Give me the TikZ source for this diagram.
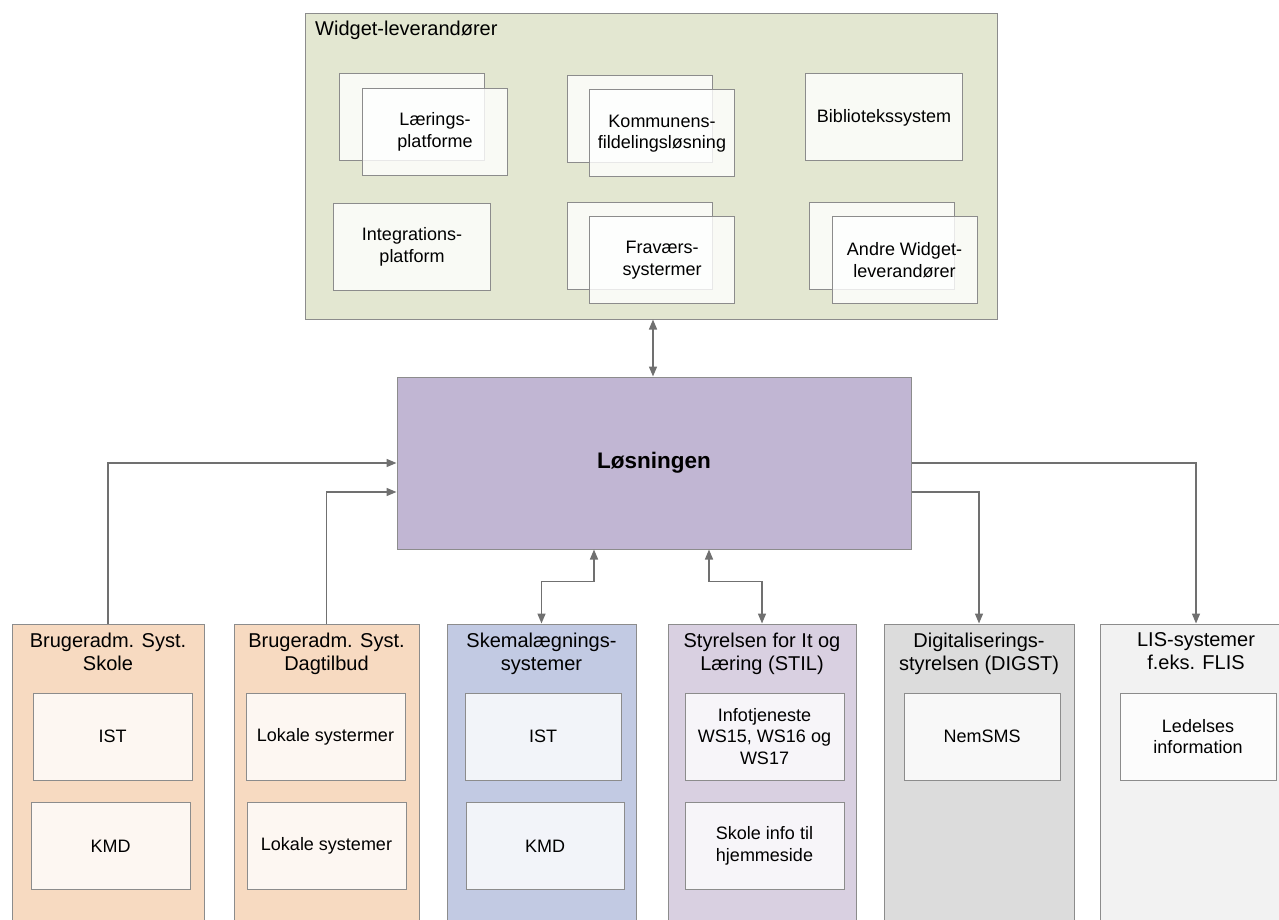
\documentclass[tikz,border=0pt]{standalone}
\usepackage{fontspec}
\setmainfont{Liberation Sans}
\usetikzlibrary{arrows.meta}

\definecolor{cBorder}{HTML}{8C8C8C}
\definecolor{cLine}{HTML}{707070}
\definecolor{cWidget}{HTML}{E3E7D1}
\definecolor{cCore}{HTML}{C1B6D3}
\definecolor{cPeach}{HTML}{F7DAC1}
\definecolor{cBlue}{HTML}{C2CAE3}
\definecolor{cLilac}{HTML}{D9D0E1}
\definecolor{cGrey}{HTML}{DCDCDC}
\definecolor{cLight}{HTML}{F2F2F2}

\newcommand\fsz[2]{\fontsize{#1}{#2}\selectfont}

\begin{document}
\begin{tikzpicture}[x=1pt,y=-1pt,
  panel/.style={draw=cBorder, line width=1pt, rectangle, inner sep=0pt},
  colbox/.style={panel, minimum height=316pt},
  card/.style={panel, fill=white, fill opacity=0.8, text opacity=1,
    minimum width=#1, minimum height=87pt, align=center, font=\fsz{18}{21.5}},
  card/.default=145pt,
  wide/.style={card=157pt},
  coltitle/.style={anchor=north, inner sep=0pt, yshift=-9pt, align=center,
    font=\fsz{20}{23}},
  conn/.style={draw=cLine, line width=1.5pt},
  tip/.style={-{Triangle[length=10pt,width=8pt]}},
  tips/.style={{Triangle[length=10pt,width=8pt]}-{Triangle[length=10pt,width=8pt]}}
]
\useasboundingbox (0,0) rectangle (1279,920);
\clip (0,0) rectangle (1279,920);

% supplier container
\node[panel, fill=cWidget, minimum width=692pt, minimum height=305pt] (widget) at (651,166.5) {};
\node[anchor=base west, inner sep=0pt, font=\fsz{20}{23}] (wtitle) at (315,35.5) {Widget-leverandører};

% supplier cards (stacked pairs are drawn back first)
\node[card] (lpB) at (411.5,117.5) {};
\node[card] (lp) at (435,132) {Lærings-\\platforme};
\node[card] (kfB) at (639.5,119.5) {};
\node[card] (kf) at (662,133.5) {Kommunens-\\fildelingsløsning};
\node[wide] (bib) at (884,117.5) {Bibliotekssystem};
\node[wide] (ip) at (412,247) {Integrations-\\platform};
\node[card] (frB) at (639.5,246) {};
\node[card] (fr) at (662,260) {Fraværs-\\systermer};
\node[card] (anB) at (881.5,246) {};
\node[card] (an) at (904.5,260) {Andre Widget-\\leverandører};

% central solution
\node[panel, fill=cCore, minimum width=514pt, minimum height=172pt,
  font=\fsz{22.5}{26}\bfseries] (los) at (654,463) {Løsningen};

% bottom columns
\node[colbox, fill=cPeach, minimum width=192pt] (skole) at (108,782) {};
\node[coltitle] at (skole.north) {Brugeradm. Syst.\\Skole};
\node[colbox, fill=cPeach, minimum width=185pt] (dag) at (326.5,782) {};
\node[coltitle] at (dag.north) {Brugeradm. Syst.\\Dagtilbud};
\node[colbox, fill=cBlue, minimum width=189pt] (skema) at (541.5,782) {};
\node[coltitle] at (skema.north) {Skemalægnings-\\systemer};
\node[colbox, fill=cLilac, minimum width=188pt] (stil) at (762,782) {};
\node[coltitle] at (stil.north) {Styrelsen for It og\\Læring (STIL)};
\node[colbox, fill=cGrey, minimum width=190pt] (digst) at (979,782) {};
\node[coltitle] at (digst.north) {Digitaliserings-\\styrelsen (DIGST)};
\node[colbox, fill=cLight, minimum width=192pt] (lis) at (1196,782) {};
\node[coltitle] at (lis.north) {LIS-systemer\\f.eks. FLIS};

% cards inside the columns
\node[card=159pt] (skIST) at (112.5,736.5) {IST};
\node[card=159pt] (skKMD) at (110.5,846) {KMD};
\node[card=159pt] (dgA) at (325.5,736.5) {Lokale systermer};
\node[card=159pt] (dgB) at (326.5,846) {Lokale systemer};
\node[card=156pt] (smIST) at (543,736.5) {IST};
\node[card=158pt] (smKMD) at (545,846) {KMD};
\node[card=159pt] (stA) at (764.5,736.5) {Infotjeneste\\WS15, WS16 og\\WS17};
\node[card=159pt] (stB) at (764.5,846) {Skole info til\\hjemmeside};
\node[card=156pt] (nem) at (982,736.5) {NemSMS};
\node[card=156pt] (led) at (1198,736.5) {Ledelses\\information};

% connectors
\draw[conn, tips] (widget.south -| 653,0) -- (los.north -| 653,0);
\draw[conn, tip] (skole.north) |- (los.west);
\draw[conn, tip] (dag.north) |- ([yshift=-29pt]los.west);
\draw[conn, tips] ([xshift=-60pt]los.south) -- ++(0,32) -| (skema.north);
\draw[conn, tips] ([xshift=55pt]los.south) -- ++(0,32) -| (stil.north);
\draw[conn, tip] (los.east) -| (lis.north);
\draw[conn, tip] ([yshift=-29pt]los.east) -| (digst.north);
\end{tikzpicture}
\end{document}
